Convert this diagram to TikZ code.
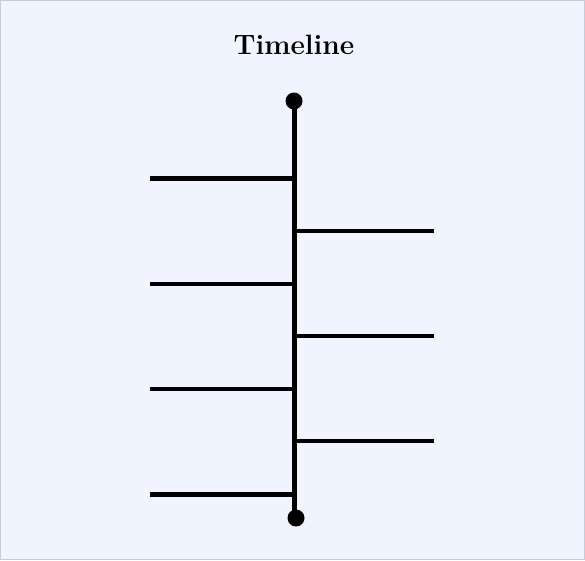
\documentclass[tikz,border=0pt]{standalone}
\begin{document}
\begin{tikzpicture}[x=1pt,y=-1pt,
  spine/.style={line width=5pt},
  branch/.style={line width=4pt},
  thickbranch/.style={line width=5pt},
  dotend/.style={circle,fill=black,inner sep=0pt,minimum size=17pt}]
\definecolor{bgc}{HTML}{F0F4FF}
\definecolor{edge}{HTML}{C8CCD8}
\useasboundingbox (0,0) rectangle (585,560);
\fill[bgc] (0,0) rectangle (585,560);
\draw[edge,line width=1pt] (0.5,0.5) rectangle (584.5,559.5);
\node[font=\bfseries\fontsize{28}{32}\selectfont] (title) at (294,45) {Timeline};
\node[dotend] (top) at (294,101) {};
\node[dotend] (bot) at (296,518) {};
\coordinate (s0) at (294,101);
\coordinate (s1) at (294,512);
\draw[spine] (s0) -- (s1);
% left branches
\coordinate (l1a) at (150,178); \coordinate (l1b) at (294,178);
\coordinate (l2a) at (150,284); \coordinate (l2b) at (294,284);
\coordinate (l3a) at (150,389); \coordinate (l3b) at (294,389);
\coordinate (l4a) at (150,494); \coordinate (l4b) at (294,494);
\draw[thickbranch] (l1a) -- (l1b);
\draw[branch] (l2a) -- (l2b);
\draw[branch] (l3a) -- (l3b);
\draw[thickbranch] (l4a) -- (l4b);
% right branches
\coordinate (r1a) at (294,231); \coordinate (r1b) at (434,231);
\coordinate (r2a) at (294,336); \coordinate (r2b) at (434,336);
\coordinate (r3a) at (294,441); \coordinate (r3b) at (434,441);
\draw[branch] (r1a) -- (r1b);
\draw[branch] (r2a) -- (r2b);
\draw[branch] (r3a) -- (r3b);
\end{tikzpicture}
\end{document}
